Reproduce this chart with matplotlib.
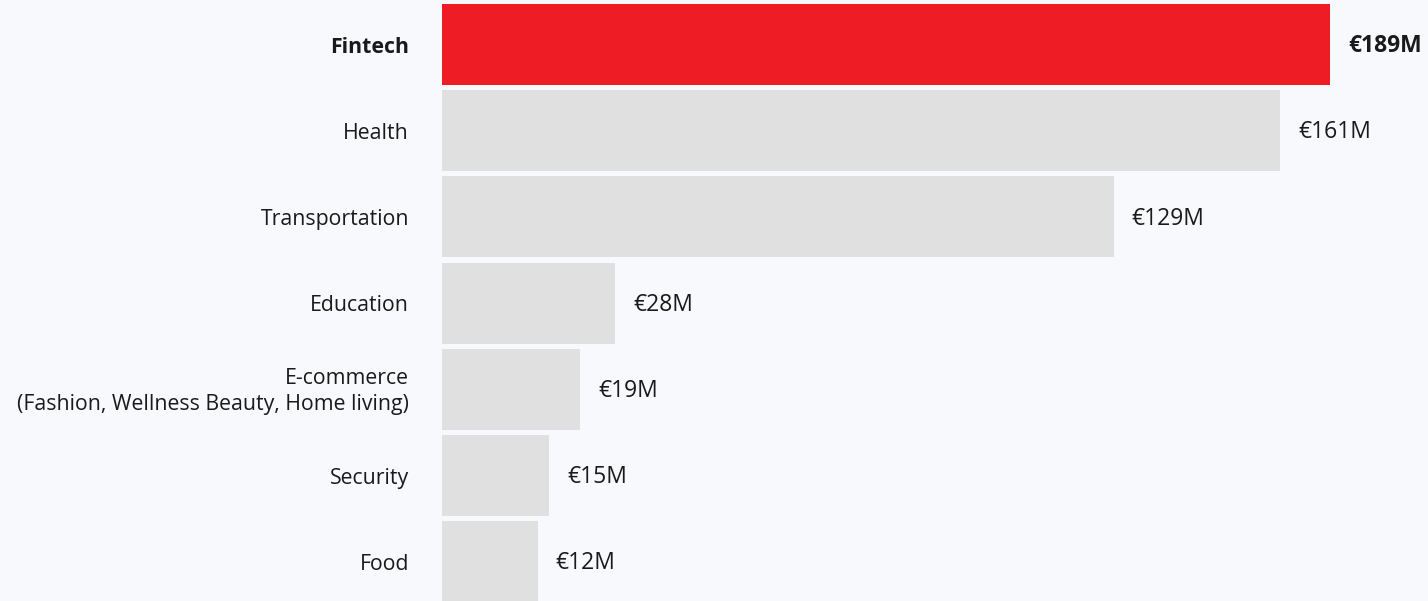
import matplotlib
matplotlib.use("Agg")
import matplotlib.pyplot as plt

categories = ["Fintech", "Health", "Transportation", "Education",
              "E-commerce\n(Fashion, Wellness Beauty, Home living)", "Security", "Food"]
value_labels = ["€189M", "€161M", "€129M", "€28M", "€19M", "€15M", "€12M"]
# bar lengths (chart units, Fintech = 189)
bar_lengths = [189, 178.4, 143.0, 36.8, 29.4, 22.8, 20.4]
highlight = [True, False, False, False, False, False, False]

BG = "#F8F9FD"
RED = "#EE1D25"
GREY = "#E0E0E0"

plt.rcParams['font.family'] = ['Open Sans', 'DejaVu Sans']

fig = plt.figure(figsize=(14.28, 6.01), dpi=100, facecolor=BG)
W, H = 1428, 601
ax = fig.add_axes([442 / W, 0, (W - 442) / W, 1])
ax.set_facecolor(BG)

ys = list(range(len(categories)))
colors = [RED if h else GREY for h in highlight]
ax.barh(ys, bar_lengths, height=0.94, color=colors, left=0)

pxu = 888 / 189.0
ax.set_xlim(0, (W - 442) / pxu)
ax.set_ylim(6.456, -0.516)

for y, v, lab, h in zip(ys, bar_lengths, value_labels, highlight):
    ax.text(v + 18 / pxu, y + 0.02, lab, va="center", ha="left", fontsize=16.5,
            fontweight="bold" if h else "normal", color="#1a1a1a")

for y, c, h in zip(ys, categories, highlight):
    ax.text(-33 / pxu, y + 0.03, c, va="center", ha="right", fontsize=15.3,
            fontweight="bold" if h else "normal", color="#1a1a1a",
            linespacing=1.3, clip_on=False)

ax.set_xticks([])
ax.set_yticks([])
for s in ax.spines.values():
    s.set_visible(False)

fig.savefig("out.png", dpi=100, facecolor=BG)
